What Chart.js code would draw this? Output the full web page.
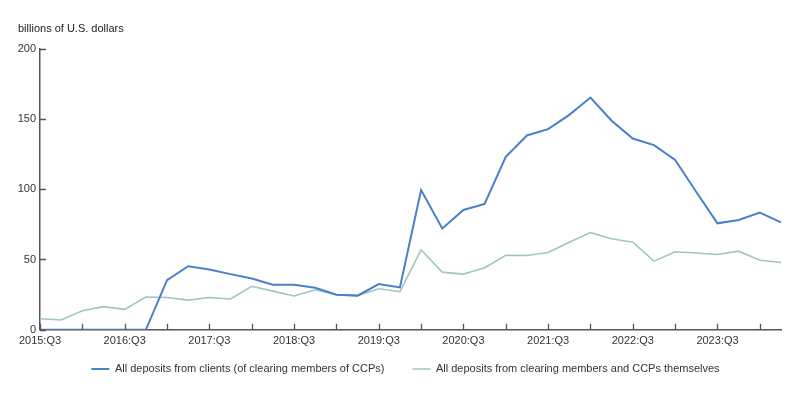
<!DOCTYPE html>
<html>
<head>
<meta charset="utf-8">
<script src="https://cdn.jsdelivr.net/npm/chart.js@4"></script>
<style>
  html, body { margin: 0; padding: 0; background: #fff; }
  #wrap { width: 800px; height: 393px; }
</style>
</head>
<body>
<div id="wrap"><canvas id="ccpChart"></canvas></div>
<script>
// kwartaly 2015:Q3 - 2024:Q2
const quarters = [
  '2015:Q3', '2015:Q4', '2016:Q1', '2016:Q2', '2016:Q3', '2016:Q4',
  '2017:Q1', '2017:Q2', '2017:Q3', '2017:Q4', '2018:Q1', '2018:Q2',
  '2018:Q3', '2018:Q4', '2019:Q1', '2019:Q2', '2019:Q3', '2019:Q4',
  '2020:Q1', '2020:Q2', '2020:Q3', '2020:Q4', '2021:Q1', '2021:Q2',
  '2021:Q3', '2021:Q4', '2022:Q1', '2022:Q2', '2022:Q3', '2022:Q4',
  '2023:Q1', '2023:Q2', '2023:Q3', '2023:Q4', '2024:Q1', '2024:Q2'
];
const shownLabels = ['2015:Q3', '2016:Q3', '2017:Q3', '2018:Q3', '2019:Q3', '2020:Q3', '2021:Q3', '2022:Q3', '2023:Q3'];

const clientDeposits = [
  0, 0, 0, 0, 0, 0,
  35.3, 45.2, 42.9, 39.6, 36.5, 32.0,
  32.0, 29.9, 25.0, 24.3, 32.5, 30.1,
  99.4, 72.0, 85.2, 89.5, 123.0, 138.2,
  142.7, 152.8, 165.1, 148.6, 136.0, 131.3,
  120.7, 98.0, 75.7, 78.1, 83.3, 76.4
];
const memberDeposits = [
  7.9, 7.0, 13.6, 16.5, 14.5, 23.3,
  23.0, 21.1, 23.0, 21.9, 30.9, 27.5,
  24.0, 28.5, 25.0, 24.3, 29.2, 27.1,
  56.9, 41.0, 39.6, 44.1, 53.0, 52.8,
  55.0, 62.3, 69.1, 64.7, 62.3, 48.8,
  55.5, 54.6, 53.5, 55.9, 49.5, 47.9
];

const yTicks = [0, 50, 100, 150, 200];
const axisColor = '#555';
const textColor = '#333';
const font11 = { family: 'Liberation Sans, Arial, sans-serif', size: 11 };

// kreski osi do srodka wykresu
const innerTicks = {
  id: 'innerTicks',
  afterDraw(chart) {
    const ctx = chart.ctx;
    const x = chart.scales.x, y = chart.scales.y;
    ctx.save();
    ctx.strokeStyle = axisColor;
    ctx.lineWidth = 1.3;
    ctx.beginPath();
    quarters.forEach((q, i) => {
      if (i % 2 !== 0) return;
      const px = Math.round(x.getPixelForValue(i)) + 0.5;
      ctx.moveTo(px, y.bottom);
      ctx.lineTo(px, y.bottom - 6);
    });
    yTicks.forEach(v => {
      const py = Math.round(y.getPixelForValue(v)) + 0.5;
      ctx.moveTo(x.left, py);
      ctx.lineTo(x.left + 6, py);
    });
    ctx.stroke();
    ctx.restore();
  }
};

// legenda troche wyzej i w prawo
const legendShift = {
  id: 'legendShift',
  afterLayout(chart) {
    const lg = chart.legend;
    lg.top -= 17.5; lg.bottom -= 17.5;
    lg.left += 6; lg.right += 6;
  }
};

const ctx = document.getElementById('ccpChart').getContext('2d');
new Chart(ctx, {
  type: 'line',
  data: {
    labels: quarters,
    datasets: [{
      label: 'All deposits from clients (of clearing members of CCPs)',
      data: clientDeposits,
      borderColor: '#4a80c9',
      backgroundColor: '#4a80c9',
      borderWidth: 2,
      pointRadius: 0,
      tension: 0
    }, {
      label: 'All deposits from clearing members and CCPs themselves',
      data: memberDeposits,
      borderColor: '#9dc6c6',
      backgroundColor: '#9dc6c6',
      borderWidth: 1.6,
      pointRadius: 0,
      tension: 0
    }]
  },
  options: {
    responsive: true,
    maintainAspectRatio: false,
    animation: false,
    layout: { padding: { left: 18, right: 19, top: 0, bottom: 0 } },
    plugins: {
      title: {
        display: true,
        text: 'billions of U.S. dollars',
        align: 'start',
        color: '#222',
        font: { family: 'Liberation Sans, Arial, sans-serif', size: 11, weight: 'normal' },
        padding: { top: 22, bottom: 13.3 }
      },
      legend: {
        position: 'bottom',
        maxHeight: 40,
        labels: {
          usePointStyle: true,
          pointStyle: 'line',
          pointStyleWidth: 18,
          padding: 28,
          color: textColor,
          font: font11
        }
      },
      tooltip: { enabled: false }
    },
    scales: {
      x: {
        offset: false,
        grid: { display: false, drawTicks: false },
        border: { display: true, color: axisColor, width: 1.5 },
        ticks: {
          autoSkip: false,
          maxRotation: 0,
          padding: 5,
          color: textColor,
          font: font11,
          callback: function(value) {
            const q = quarters[value];
            return shownLabels.includes(q) ? q : '';
          }
        }
      },
      y: {
        min: 0,
        max: 200,
        grid: { display: false, drawTicks: false },
        border: { display: true, color: axisColor, width: 1.5 },
        ticks: {
          stepSize: 50,
          padding: 4,
          color: textColor,
          font: font11
        },
        afterFit: function(scale) { scale.width = 22; }
      }
    }
  },
  plugins: [innerTicks, legendShift]
});
</script>
</body>
</html>
